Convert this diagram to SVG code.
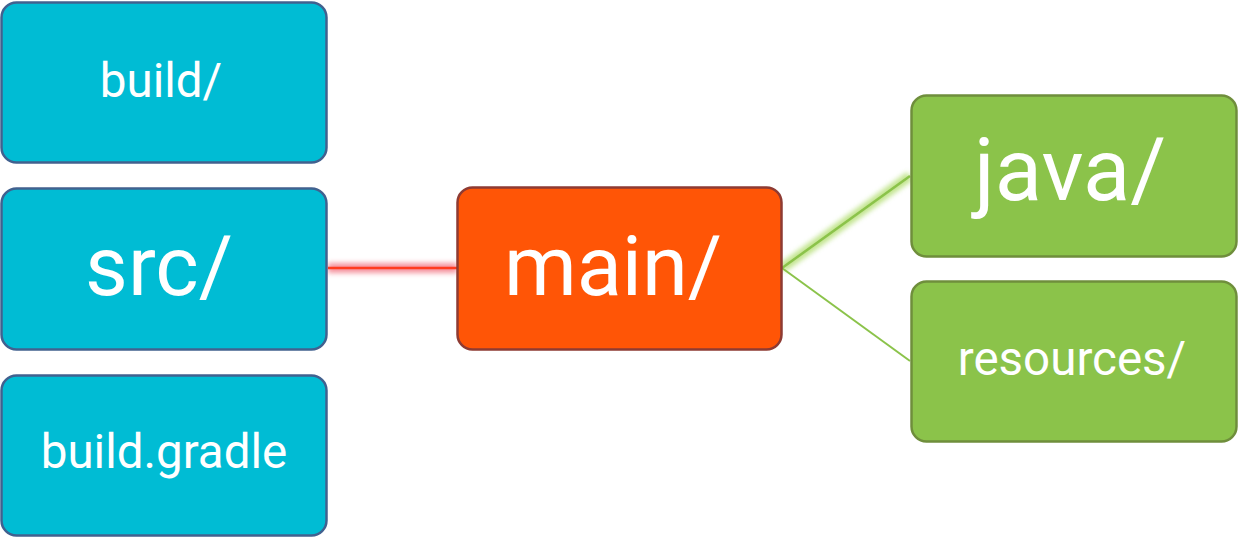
<svg xmlns="http://www.w3.org/2000/svg" width="1239" height="538" viewBox="0 0 1239 538">
<style>
.blue{fill:#00BCD4;stroke:#41618F;stroke-width:2.5}
.orange{fill:#FF5506;stroke:#8E3B33;stroke-width:2.5}
.green{fill:#8BC34A;stroke:#6F8E3C;stroke-width:2.5}
text{font-family:Roboto,"Liberation Sans",sans-serif;fill:#fff;text-anchor:middle}
.s{font-size:47.5px}
.l{font-size:83px}
</style>
<defs>
<filter id="glow" filterUnits="userSpaceOnUse" x="0" y="0" width="1239" height="538"><feGaussianBlur stdDeviation="2.5"/></filter>
</defs>
<g id="connectors">
<line x1="328" y1="268" x2="457" y2="268" stroke="#F2707F" stroke-width="10" opacity="0.75" filter="url(#glow)"/>
<line x1="328" y1="268" x2="457" y2="268" stroke="#FF3B1F" stroke-width="2.5"/>
<line x1="782" y1="268" x2="910" y2="176" stroke="#B7E07A" stroke-width="10" opacity="0.85" filter="url(#glow)"/>
<line x1="782" y1="268" x2="910" y2="176" stroke="#8BC34A" stroke-width="2.5"/>
<line x1="782" y1="268" x2="910" y2="361" stroke="#8BC34A" stroke-width="2"/>
</g>
<g id="build"><rect class="blue" x="1.5" y="2.5" width="325" height="160" rx="15"/><text class="s" x="161" y="97">build/</text></g>
<g id="src"><rect class="blue" x="1.5" y="188.5" width="325" height="161" rx="15"/><text class="l" x="159" y="295">src/</text></g>
<g id="buildgradle"><rect class="blue" x="1.5" y="375.5" width="325" height="160" rx="15"/><text class="s" x="164" y="468">build.gradle</text></g>
<g id="main"><rect class="orange" x="457.5" y="187.5" width="324" height="162" rx="15"/><text class="l" x="613" y="295">main/</text></g>
<g id="java"><rect class="green" x="911.5" y="95.5" width="325" height="161" rx="15"/><text class="l" x="1070" y="200" style="font-size:87px">java/</text></g>
<g id="resources"><rect class="green" x="911.5" y="281.5" width="325" height="160" rx="15"/><text class="s" x="1072" y="375">resources/</text></g>
</svg>
